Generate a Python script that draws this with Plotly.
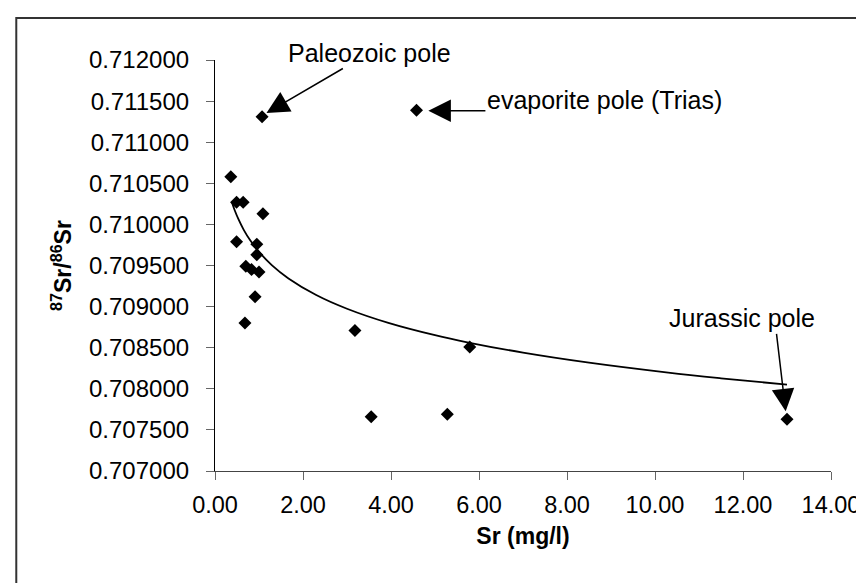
import plotly.graph_objects as go

# measured samples: Sr (mg/l) and 87Sr/86Sr
sr = [0.36, 0.49, 0.64, 1.09, 0.49, 0.95, 0.95, 0.70, 0.83, 1.00,
      0.91, 0.68, 3.18, 3.55, 5.28, 5.79, 13.00, 1.07, 4.58]
ratio = [0.710580, 0.710270, 0.710270, 0.710130, 0.709790, 0.709760,
         0.709630, 0.709490, 0.709450, 0.709420, 0.709120, 0.708800,
         0.708710, 0.707660, 0.707690, 0.708510, 0.707630, 0.711310, 0.711390]

# trend curve
trend_sr = [0.38, 0.45, 0.53, 0.65, 0.80, 1.02, 1.29, 1.67, 2.30, 3.00,
            3.94, 5.00, 5.76, 7.00, 8.50, 10.30, 11.50, 13.00]
trend_ratio = [0.710276, 0.710169, 0.710066, 0.709937, 0.709806, 0.709654,
               0.709505, 0.709343, 0.709141, 0.708974, 0.708802, 0.708652,
               0.708563, 0.708440, 0.708318, 0.708197, 0.708128, 0.708050]

# pole labels: text, arrow tip (data)
labels = ["Paleozoic pole", "evaporite pole (Trias)", "Jurassic pole"]
arrow_tip = [(1.17, 0.711355), (4.85, 0.711383), (12.97, 0.707726)]

FONT = "Liberation Sans, Arial, sans-serif"

fig = go.Figure()
fig.add_trace(go.Scatter(x=trend_sr, y=trend_ratio, mode="lines",
                         line=dict(color="black", width=1.8, shape="spline"),
                         hoverinfo="skip"))
fig.add_trace(go.Scatter(x=sr, y=ratio, mode="markers",
                         marker=dict(symbol="diamond", size=10, color="black")))

arrow_style = dict(showarrow=True, arrowhead=2, arrowsize=3, arrowwidth=1.5,
                   arrowcolor="black", font=dict(size=25, color="black"),
                   xref="x", yref="y")

# Paleozoic: arrow runs from below the text, down-left to the point
fig.add_annotation(x=arrow_tip[0][0], y=arrow_tip[0][1], ax=103, ay=-60,
                   text=labels[0], **arrow_style)
# evaporite: horizontal arrow, text sits a little above the arrow
fig.add_annotation(x=arrow_tip[1][0], y=arrow_tip[1][1], ax=176, ay=0,
                   height=50, valign="top", text=labels[1], **arrow_style)
# Jurassic: near-vertical arrow leaving under the word "pole"
fig.add_annotation(x=arrow_tip[2][0], y=arrow_tip[2][1], ax=-11, ay=-93,
                   width=212, align="left", text=labels[2], **arrow_style)

# outer frame (cut off at right and bottom)
fig.add_shape(type="rect", xref="paper", yref="paper",
              x0=-0.3226, x1=1.08, y0=-0.31, y1=1.102,
              line=dict(color="#333", width=2))

fig.update_xaxes(range=[0, 14], dtick=2, tickformat=".2f", automargin=False,
                 showline=True, linecolor="#444", linewidth=1.2,
                 ticks="outside", ticklen=8, tickcolor="#666",
                 showgrid=False, zeroline=False,
                 tickfont=dict(size=23.5), ticklabelstandoff=5,
                 title=dict(text="<b>Sr (mg/l)</b>", font=dict(size=23), standoff=10))
fig.update_yaxes(range=[0.707, 0.712], dtick=0.0005, tickformat=".6f", automargin=False,
                 showline=True, linecolor="black", linewidth=1.2,
                 ticks="outside", ticklen=8, tickcolor="#666",
                 showgrid=False, zeroline=False,
                 tickfont=dict(size=24), ticklabelstandoff=12,
                 title=dict(text="<b><sup>87</sup>Sr/<sup>86</sup>Sr</b>",
                            font=dict(size=23), standoff=10))

fig.update_layout(width=864, height=583,
                  margin=dict(l=207, r=41, t=52, b=120),
                  paper_bgcolor="white", plot_bgcolor="white",
                  showlegend=False,
                  font=dict(family=FONT, color="black"))

fig.write_html("out.html")
